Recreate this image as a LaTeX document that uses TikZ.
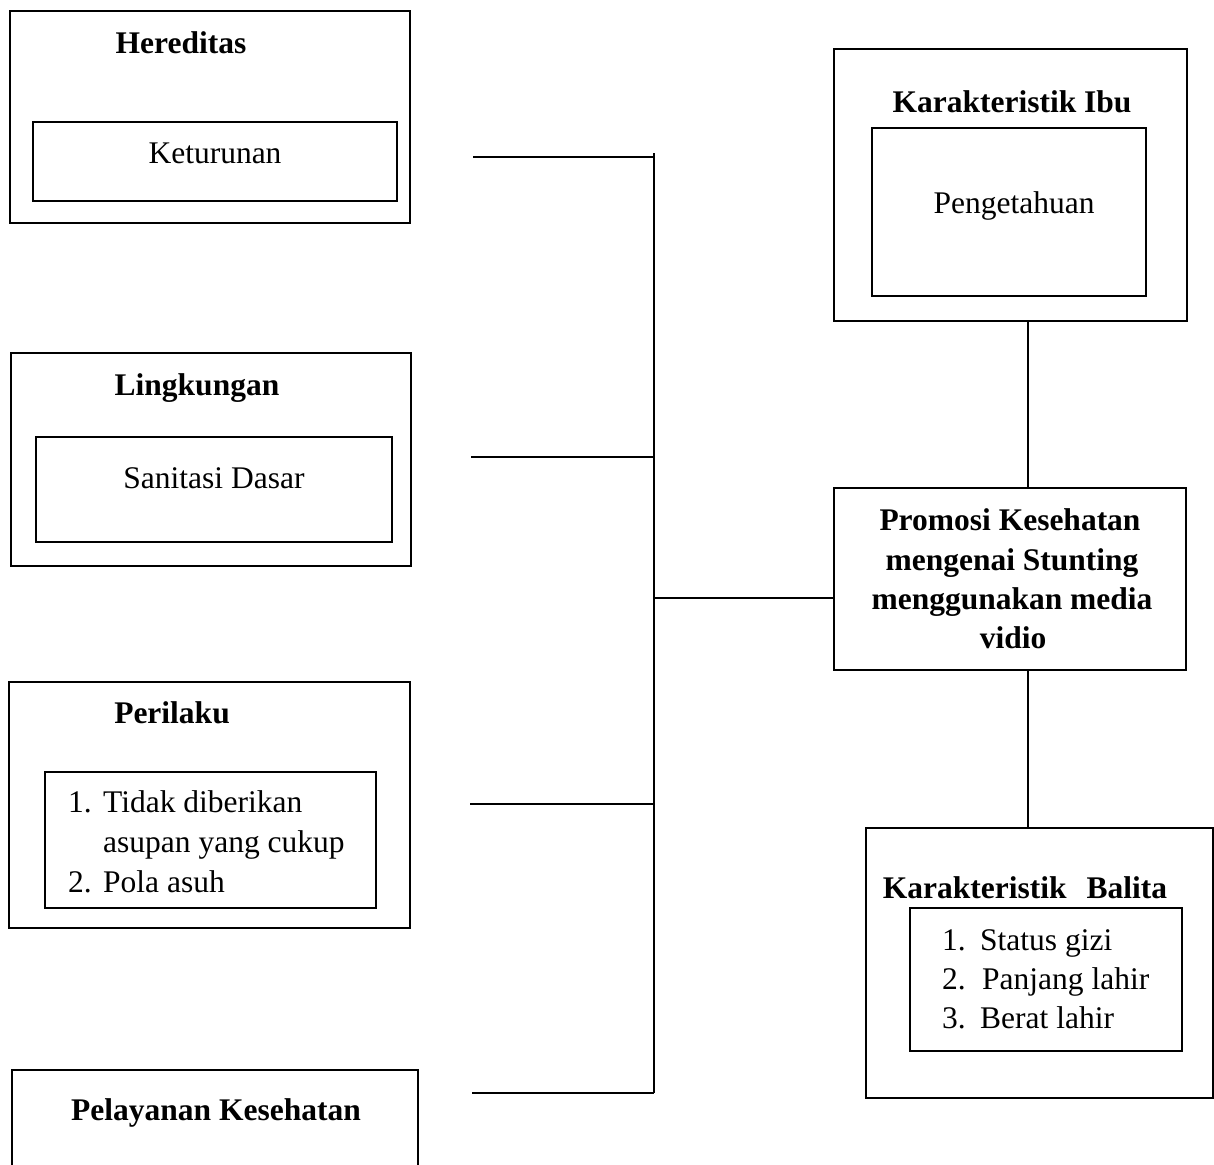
\documentclass[tikz,border=0pt]{standalone}
\usepackage{fontspec}
\setmainfont{Liberation Serif}
\newcommand\bigtxt{\fontsize{31.5pt}{40pt}\selectfont}
\begin{document}
\begin{tikzpicture}[x=1pt,y=-1pt,
  obox/.style={draw, line width=2pt, inner sep=0pt, outer sep=0pt},
  thinbox/.style={draw, line width=1.2pt, inner sep=0pt, outer sep=0pt},
  conn/.style={line width=1.5pt},
  ttl/.style={font=\bigtxt\bfseries, anchor=base, inner sep=0pt},
  txt/.style={font=\bigtxt, anchor=base, inner sep=0pt},
  itm/.style={font=\bigtxt, anchor=base west, inner sep=0pt}]
\useasboundingbox (0,0) rectangle (1214,1164);
\clip (0,0) rectangle (1214,1164);
% left boxes
\node[obox, minimum width=400pt, minimum height=212pt] (hered) at (210,117) {};
\node[obox, minimum width=364pt, minimum height=79pt] (ketur) at (215,161.5) {};
\node[ttl] (hereditas) at (181,53) {Hereditas};
\node[txt] (keturunan) at (215,163) {Keturunan};

\node[obox, minimum width=400pt, minimum height=213pt] (lingk) at (211,459.5) {};
\node[obox, minimum width=356pt, minimum height=105pt] (sanit) at (214,489.5) {};
\node[ttl] (lingkungan) at (197,395) {Lingkungan};
\node[txt] (sanitasi) at (214,488) {Sanitasi Dasar};

\node[obox, minimum width=401pt, minimum height=246pt] (peril) at (209.5,805) {};
\node[obox, minimum width=331pt, minimum height=136pt] (perlist) at (210.5,840) {};
\node[ttl] (perilaku) at (172,723) {Perilaku};
\node[itm] (p1) at (68,812) {\makebox[35pt][l]{1.}Tidak diberikan};
\node[itm] (p1b) at (103,852) {asupan yang cukup};
\node[itm] (p2) at (68,892) {\makebox[35pt][l]{2.}Pola asuh};

\node[obox, minimum width=406pt, minimum height=130pt] (pelay) at (215,1135) {};
\node[ttl] (pelayanan) at (216,1120) {Pelayanan Kesehatan};

% right boxes
\node[thinbox, minimum width=353pt, minimum height=272pt] (ibu) at (1010.5,185) {};
\node[obox, minimum width=274pt, minimum height=168pt] (ibuin) at (1009,212) {};
\node[ttl] (ibutitle) at (1012,112) {Karakteristik Ibu};
\node[txt] (pengetahuan) at (1014,213) {Pengetahuan};

\node[obox, minimum width=352pt, minimum height=182pt] (prom) at (1010,579) {};
\node[ttl] (pr1) at (1010,530) {Promosi Kesehatan};
\node[ttl] (pr2) at (1012,570) {mengenai Stunting};
\node[ttl] (pr3) at (1012,609) {menggunakan media};
\node[ttl] (pr4) at (1013,648) {vidio};

\node[obox, minimum width=347pt, minimum height=270pt] (bal) at (1039.5,963) {};
\node[obox, minimum width=272pt, minimum height=143pt] (balin) at (1046,979.5) {};
\node[ttl] (baltitle) at (1025,898) {Karakteristik\hspace{20pt}Balita};
\node[itm] (b1) at (942,950) {\makebox[38pt][l]{1.}Status gizi};
\node[itm] (b2) at (942,989) {\makebox[40pt][l]{2.}Panjang lahir};
\node[itm] (b3) at (942,1028) {\makebox[38pt][l]{3.}Berat lahir};

% connectors
\coordinate (bustop) at (654,153);
\coordinate (busbot) at (654,1093);
\coordinate (s1) at (473,157);
\coordinate (s2) at (471,457);
\coordinate (s3) at (470,804);
\coordinate (s4) at (472,1093);
\coordinate (j) at (654,598);
\coordinate (vx) at (1028,0);
\draw[conn] (bustop) -- (busbot);
\draw[conn] (s1) -- (s1 -| bustop);
\draw[conn] (s2) -- (s2 -| bustop);
\draw[conn] (s3) -- (s3 -| bustop);
\draw[conn] (s4) -- (s4 -| bustop);
\draw[conn] (j) -- (prom.west |- j);
\draw[conn] (ibu.south -| vx) -- (prom.north -| vx);
\draw[conn] (prom.south -| vx) -- (bal.north -| vx);
\end{tikzpicture}
\end{document}
